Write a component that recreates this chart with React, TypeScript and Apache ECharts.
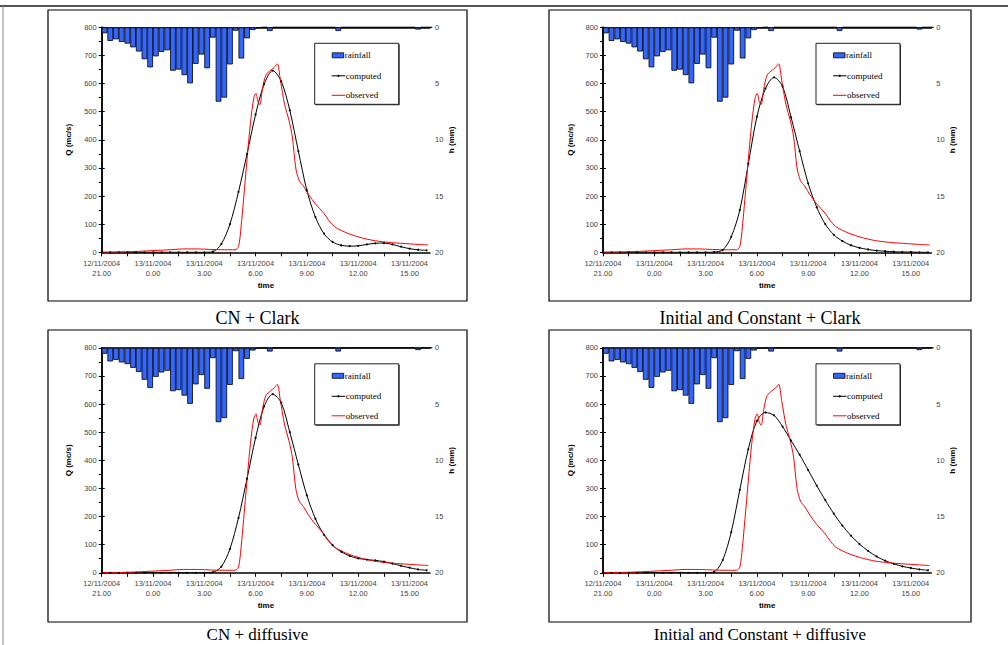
import React, { useEffect, useRef } from 'react';
import * as echarts from 'echarts';

// ---------- data ----------
const timeLabels = [
  '12/11/2004\n21.00',
  '13/11/2004\n0.00',
  '13/11/2004\n3.00',
  '13/11/2004\n6.00',
  '13/11/2004\n9.00',
  '13/11/2004\n12.00',
  '13/11/2004\n15.00',
];

// rainfall depth (mm) every 20 minutes from 12/11/2004 21:00
const RAIN_STEP_H = 1 / 3;
const rainfall = [
  0.53, 1.21, 1.07, 1.3, 1.45, 1.78, 2.15, 2.84, 3.56, 2.58,
  2.19, 2.04, 3.86, 3.76, 4.25, 4.98, 3.25, 2.42, 3.64, 0.92,
  6.61, 6.25, 3.3, 0.3, 2.77, 0.98, 0.24, 0.06, 0, 0.33,
  0, 0, 0, 0, 0, 0, 0, 0, 0, 0,
  0, 0.33, 0, 0, 0, 0, 0, 0, 0, 0,
  0, 0, 0, 0, 0, 0.2, 0, 0,
];

// observed discharge (hours after 21:00, m3/s)
const observedHours = [
  0, 1, 2, 3, 4, 4.8, 5.6, 6.4, 7.2, 7.8, 8.0, 8.15, 8.3, 8.5, 8.7, 8.9, 9.02, 9.14,
  9.25, 9.4, 9.6, 9.9, 10.1, 10.27, 10.45, 10.7, 10.95, 11.15, 11.35, 11.55, 11.8,
  12.1, 12.5, 13.0, 13.3, 13.6, 14.0, 14.5, 15.0, 15.5, 16.0, 16.5, 17.0, 17.5, 18.0,
  18.5, 19.1,
];
const observedQ = [
  0, 1, 3, 6, 9, 12, 12, 10, 9, 9, 20, 90, 190, 330, 460, 550, 565, 535,
  525, 580, 630, 648, 658, 670, 612, 525, 470, 410, 300, 255, 235,
  205, 172, 138, 112, 92, 78, 65, 55, 47, 41, 37, 34, 32, 30,
  28, 26,
];

// computed discharge every 30 minutes from 21:00
const Q_STEP_H = 0.5;
const computedCNClark = [
  0, 0, 0, 0, 0, 0, 0, 0, 0, 0, 0, 0, 0,
  2, 30, 100, 215, 350, 490, 598, 646, 608, 505, 360, 220, 125, 66,
  37, 25, 22, 23, 28, 32, 33, 28, 20, 13, 9, 7,
];
const computedICClark = [
  0, 0, 0, 0, 0, 0, 0, 0, 0, 0, 0, 0, 0,
  1, 8, 55, 150, 315, 482, 582, 622, 590, 480, 360, 245, 160, 100,
  62, 40, 25, 16, 10, 6, 4, 2, 1, 1, 0, 0,
];
const computedCNDiff = [
  0, 0, 0, 0, 0, 0, 0, 0, 0, 0, 0, 0, 0,
  2, 22, 85, 195, 335, 480, 592, 635, 605, 500, 385, 275, 192, 135,
  98, 75, 60, 51, 47, 44, 40, 33, 25, 18, 12, 9,
];
const computedICDiff = [
  0, 0, 0, 0, 0, 0, 0, 0, 0, 0, 0, 0, 0,
  3, 45, 145, 295, 440, 540, 570, 560, 520, 470, 420, 365, 310, 258,
  210, 168, 132, 102, 78, 58, 43, 32, 23, 17, 12, 9,
];

const panelTitles = [
  'CN + Clark',
  'Initial and Constant + Clark',
  'CN + diffusive',
  'Initial and Constant + diffusive',
];
const computedSets = [computedCNClark, computedICClark, computedCNDiff, computedICDiff];
const legendNames = ['rainfall', 'computed', 'observed'];

// ---------- layout ----------
const GW = 328.3;
const GH = 225;
const X_MAX = 19.2;
const panels = [
  { gx: 101.7, gy: 27.3, bx: 48, by: 10, bw: 419, bh: 291, cy: 318, fs: 18 },
  { gx: 603, gy: 27.3, bx: 549, by: 10, bw: 422, bh: 291, cy: 318, fs: 18 },
  { gx: 101.7, gy: 347.8, bx: 48, by: 330, bw: 419, bh: 292, cy: 634, fs: 17 },
  { gx: 603, gy: 347.8, bx: 549, by: 330, bw: 422, bh: 292, cy: 634, fs: 17 },
];

const BLUE = '#3366ff';
const LABEL_GRAY = '#444';
const SANS = '"Liberation Sans", Arial, sans-serif';
const SERIF = '"Liberation Serif", "Times New Roman", serif';

function buildOption() {
  const grid: any[] = [];
  const xAxis: any[] = [];
  const yAxis: any[] = [];
  const series: any[] = [];
  const elements: any[] = [];

  elements.push({
    type: 'line', silent: true,
    shape: { x1: 0, y1: 6, x2: 1008, y2: 6 },
    style: { stroke: '#555', lineWidth: 2 },
  });
  elements.push({
    type: 'line', silent: true,
    shape: { x1: 3, y1: 6, x2: 3, y2: 645 },
    style: { stroke: '#888', lineWidth: 1 },
  });

  panels.forEach((p, i) => {
    grid.push({ left: p.gx, top: p.gy, width: GW, height: GH, containLabel: false, outerBoundsMode: 'none' });

    xAxis.push({
      type: 'value', gridIndex: i, position: 'bottom', min: 0, max: X_MAX, interval: 1.5,
      name: 'time', nameLocation: 'middle', nameGap: 29,
      nameTextStyle: { fontFamily: SANS, fontWeight: 'bold', fontSize: 8, color: '#000' },
      axisLine: { show: true, lineStyle: { color: '#000', width: 1.5 } },
      axisTick: { show: true, length: 4, lineStyle: { color: '#000', width: 1 } },
      axisLabel: {
        fontFamily: SANS, fontSize: 7.5, lineHeight: 10, color: LABEL_GRAY, margin: 6,
        showMaxLabel: false,
        formatter: (v: number) => {
          const k = Math.round(v / 3);
          return Math.abs(v - k * 3) < 1e-6 && timeLabels[k] ? timeLabels[k] : '';
        },
      },
      splitLine: { show: false },
    });
    xAxis.push({
      type: 'value', gridIndex: i, position: 'top', min: 0, max: X_MAX,
      axisLine: { show: true, lineStyle: { color: '#000', width: 1.5 } },
      axisTick: { show: false }, axisLabel: { show: false }, splitLine: { show: false },
    });

    yAxis.push({
      type: 'value', gridIndex: i, position: 'left', min: 0, max: 800, interval: 50,
      name: 'Q (mc/s)', nameLocation: 'middle', nameGap: 29, nameRotate: 90,
      nameTextStyle: { fontFamily: SANS, fontWeight: 'bold', fontSize: 8, color: '#000' },
      axisLine: { show: true, lineStyle: { color: '#000', width: 1.5 } },
      axisTick: { show: true, length: 3, lineStyle: { color: '#000', width: 1 } },
      axisLabel: {
        fontFamily: SANS, fontSize: 7.5, color: LABEL_GRAY, margin: 5,
        formatter: (v: number) => (v % 100 === 0 ? String(v) : ''),
      },
      splitLine: { show: false },
    });
    yAxis.push({
      type: 'value', gridIndex: i, position: 'right', min: 0, max: 20, interval: 2.5, inverse: true,
      name: 'h (mm)', nameLocation: 'middle', nameGap: 15, nameRotate: 90,
      nameTextStyle: { fontFamily: SANS, fontWeight: 'bold', fontSize: 8, color: '#000' },
      axisLine: { show: true, lineStyle: { color: '#000', width: 1.5 } },
      axisTick: { show: true, length: 3, lineStyle: { color: '#000', width: 1 } },
      axisLabel: {
        fontFamily: SANS, fontSize: 7.5, color: LABEL_GRAY, margin: 5,
        formatter: (v: number) => (v % 5 === 0 ? String(v) : ''),
      },
      splitLine: { show: false },
    });

    series.push({
      type: 'bar', name: 'rainfall', xAxisIndex: 2 * i, yAxisIndex: 2 * i + 1,
      data: rainfall.map((v, k) => [(k + 0.5) * RAIN_STEP_H, v]),
      barWidth: 5.7, clip: true, silent: true,
      itemStyle: { color: BLUE, borderColor: '#000', borderWidth: 0.8 },
    });
    series.push({
      type: 'line', name: 'computed', xAxisIndex: 2 * i, yAxisIndex: 2 * i,
      data: computedSets[i].map((v, k) => [k * Q_STEP_H, v]),
      smooth: 0.3, symbol: 'circle', symbolSize: 2, showSymbol: true, silent: true,
      lineStyle: { color: '#000', width: 1 }, itemStyle: { color: '#000' },
    });
    series.push({
      type: 'line', name: 'observed', xAxisIndex: 2 * i, yAxisIndex: 2 * i,
      data: observedHours.map((h, k) => [h, observedQ[k]]),
      smooth: 0.3, showSymbol: false, silent: true,
      lineStyle: { color: '#ff0000', width: 1 },
    });

    // panel frame
    elements.push({
      type: 'rect', silent: true,
      shape: { x: p.bx, y: p.by, width: p.bw, height: p.bh },
      style: { fill: 'none', stroke: '#000', lineWidth: 1.2 },
    });
    // caption
    elements.push({
      type: 'text', silent: true,
      x: p.bx + p.bw / 2, y: p.cy,
      style: {
        text: panelTitles[i], font: `${p.fs}px ${SERIF}`, fill: '#000',
        textAlign: 'center', textVerticalAlign: 'middle',
      },
    });
    // legend
    const lx = p.gx + 213;
    const ly = p.gy + 16;
    elements.push({
      type: 'rect', silent: true, z: 10,
      shape: { x: lx + 1, y: ly + 1, width: 84, height: 61 },
      style: { fill: '#333', stroke: 'none' },
    });
    elements.push({
      type: 'rect', silent: true, z: 11,
      shape: { x: lx, y: ly, width: 84, height: 61 },
      style: { fill: '#fff', stroke: '#222', lineWidth: 1 },
    });
    elements.push({
      type: 'rect', silent: true, z: 12,
      shape: { x: lx + 17.5, y: ly + 9.5, width: 11.5, height: 5 },
      style: { fill: BLUE, stroke: '#000', lineWidth: 0.8 },
    });
    elements.push({
      type: 'line', silent: true, z: 12,
      shape: { x1: lx + 17, y1: ly + 32.5, x2: lx + 30.5, y2: ly + 32.5 },
      style: { stroke: '#000', lineWidth: 1 },
    });
    elements.push({
      type: 'circle', silent: true, z: 12,
      shape: { cx: lx + 23.75, cy: ly + 32.5, r: 1.1 },
      style: { fill: '#000' },
    });
    elements.push({
      type: 'line', silent: true, z: 12,
      shape: { x1: lx + 17, y1: ly + 52, x2: lx + 30.5, y2: ly + 52 },
      style: { stroke: '#ff0000', lineWidth: 1 },
    });
    const textYs = [12, 32.5, 52];
    legendNames.forEach((n, k) => {
      elements.push({
        type: 'text', silent: true, z: 12,
        x: lx + (k === 0 ? 30 : 31), y: ly + textYs[k],
        style: {
          text: n, font: `9px ${SERIF}`, fill: '#000',
          textAlign: 'left', textVerticalAlign: 'middle',
        },
      });
    });
  });

  return {
    animation: false,
    backgroundColor: '#fff',
    textStyle: { fontFamily: SANS },
    grid,
    xAxis,
    yAxis,
    series,
    graphic: { elements },
  };
}

export default function App() {
  const ref = useRef<HTMLDivElement>(null);
  useEffect(() => {
    if (!ref.current) return;
    const chart = echarts.init(ref.current, null, { renderer: 'svg' });
    chart.setOption(buildOption() as any);
    return () => chart.dispose();
  }, []);
  return (
    <div
      ref={ref}
      style={{ position: 'fixed', left: 0, top: 0, width: 1008, height: 645, background: '#fff' }}
    />
  );
}
